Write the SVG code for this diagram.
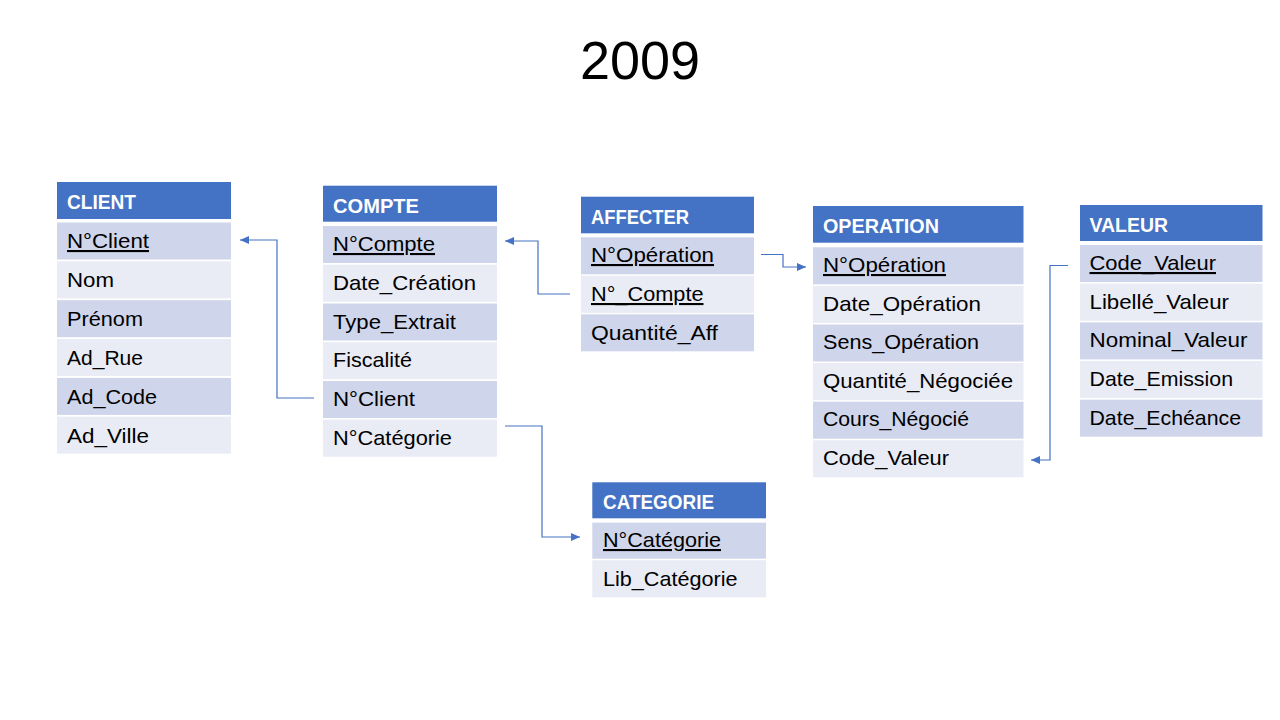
<svg xmlns="http://www.w3.org/2000/svg" width="1280" height="720" viewBox="0 0 1280 720">
<defs>
<style>
.h{fill:#4472C4}
.r1{fill:#CFD5EA}
.r2{fill:#E9EBF5}
.ht{font-family:"Liberation Sans",Arial,sans-serif;font-size:20px;font-weight:bold;fill:#FFFFFF}
.t{font-family:"Liberation Sans",Arial,sans-serif;font-size:21px;fill:#000000}
.pk{text-decoration:underline}
.c{fill:none;stroke:#4472C4;stroke-width:1.2}
.title{font-family:"Liberation Sans",Arial,sans-serif;font-size:54px;fill:#000000}
</style>
<marker id="ar" markerUnits="userSpaceOnUse" markerWidth="9" markerHeight="8" refX="9" refY="4" orient="auto">
<path d="M0,0 L9,4 L0,8 z" fill="#4472C4"/>
</marker>
</defs>
<rect width="1280" height="720" fill="#FFFFFF"/>
<text class="title" x="640" y="79" text-anchor="middle">2009</text>

<g id="client">
<rect class="h" x="57" y="182" width="174" height="37"/>
<text class="ht" x="67" y="209" textLength="69" lengthAdjust="spacingAndGlyphs">CLIENT</text>
<rect class="r1" x="57" y="222.5" width="174" height="37"/>
<rect class="r2" x="57" y="261.3" width="174" height="37"/>
<rect class="r1" x="57" y="300.2" width="174" height="37"/>
<rect class="r2" x="57" y="339" width="174" height="37"/>
<rect class="r1" x="57" y="377.9" width="174" height="37"/>
<rect class="r2" x="57" y="416.7" width="174" height="37"/>
<text class="t pk" x="67" y="248" textLength="82" lengthAdjust="spacingAndGlyphs">N°Client</text>
<text class="t" x="67" y="287" textLength="47" lengthAdjust="spacingAndGlyphs">Nom</text>
<text class="t" x="67" y="326" textLength="76" lengthAdjust="spacingAndGlyphs">Prénom</text>
<text class="t" x="67" y="364.5" textLength="76" lengthAdjust="spacingAndGlyphs">Ad_Rue</text>
<text class="t" x="67" y="403.5" textLength="90" lengthAdjust="spacingAndGlyphs">Ad_Code</text>
<text class="t" x="67" y="442.5" textLength="82" lengthAdjust="spacingAndGlyphs">Ad_Ville</text>
</g>

<g id="compte">
<rect class="h" x="323" y="185.7" width="174" height="36"/>
<text class="ht" x="333" y="212.5" textLength="86" lengthAdjust="spacingAndGlyphs">COMPTE</text>
<rect class="r1" x="323" y="226" width="174" height="37"/>
<rect class="r2" x="323" y="264.7" width="174" height="37"/>
<rect class="r1" x="323" y="303.5" width="174" height="37"/>
<rect class="r2" x="323" y="342.2" width="174" height="37"/>
<rect class="r1" x="323" y="381" width="174" height="37"/>
<rect class="r2" x="323" y="419.7" width="174" height="37"/>
<text class="t pk" x="333" y="251" textLength="102" lengthAdjust="spacingAndGlyphs">N°Compte</text>
<text class="t" x="333" y="290" textLength="143" lengthAdjust="spacingAndGlyphs">Date_Création</text>
<text class="t" x="333" y="328.5" textLength="123" lengthAdjust="spacingAndGlyphs">Type_Extrait</text>
<text class="t" x="333" y="367" textLength="79" lengthAdjust="spacingAndGlyphs">Fiscalité</text>
<text class="t" x="333" y="406" textLength="82" lengthAdjust="spacingAndGlyphs">N°Client</text>
<text class="t" x="333" y="444.5" textLength="119" lengthAdjust="spacingAndGlyphs">N°Catégorie</text>
</g>

<g id="affecter">
<rect class="h" x="581" y="196.7" width="173" height="36.6"/>
<text class="ht" x="591" y="223.5" textLength="98" lengthAdjust="spacingAndGlyphs">AFFECTER</text>
<rect class="r1" x="581" y="237.3" width="173" height="37"/>
<rect class="r2" x="581" y="275.8" width="173" height="37"/>
<rect class="r1" x="581" y="314.3" width="173" height="37"/>
<text class="t pk" x="591" y="262" textLength="123" lengthAdjust="spacingAndGlyphs">N°Opération</text>
<text class="t pk" x="591" y="301" textLength="112.5" lengthAdjust="spacingAndGlyphs">N°_Compte</text>
<text class="t" x="591" y="339.5" textLength="127" lengthAdjust="spacingAndGlyphs">Quantité_Aff</text>
</g>

<g id="operation">
<rect class="h" x="813" y="206" width="210.5" height="36.7"/>
<text class="ht" x="823" y="233" textLength="116" lengthAdjust="spacingAndGlyphs">OPERATION</text>
<rect class="r1" x="813" y="247.3" width="210.5" height="37"/>
<rect class="r2" x="813" y="285.9" width="210.5" height="37"/>
<rect class="r1" x="813" y="324.5" width="210.5" height="37"/>
<rect class="r2" x="813" y="363.1" width="210.5" height="37"/>
<rect class="r1" x="813" y="401.7" width="210.5" height="37"/>
<rect class="r2" x="813" y="440.3" width="210.5" height="37"/>
<text class="t pk" x="823" y="272" textLength="123" lengthAdjust="spacingAndGlyphs">N°Opération</text>
<text class="t" x="823" y="310.5" textLength="158" lengthAdjust="spacingAndGlyphs">Date_Opération</text>
<text class="t" x="823" y="349" textLength="156" lengthAdjust="spacingAndGlyphs">Sens_Opération</text>
<text class="t" x="823" y="387.5" textLength="190" lengthAdjust="spacingAndGlyphs">Quantité_Négociée</text>
<text class="t" x="823" y="426" textLength="146" lengthAdjust="spacingAndGlyphs">Cours_Négocié</text>
<text class="t" x="823" y="465" textLength="126" lengthAdjust="spacingAndGlyphs">Code_Valeur</text>
</g>

<g id="valeur">
<rect class="h" x="1080" y="205" width="182.5" height="36"/>
<text class="ht" x="1089.5" y="231.5" textLength="78.5" lengthAdjust="spacingAndGlyphs">VALEUR</text>
<rect class="r1" x="1080" y="245" width="182.5" height="37"/>
<rect class="r2" x="1080" y="283.7" width="182.5" height="37"/>
<rect class="r1" x="1080" y="322.4" width="182.5" height="37"/>
<rect class="r2" x="1080" y="361" width="182.5" height="37"/>
<rect class="r1" x="1080" y="399.7" width="182.5" height="37"/>
<text class="t pk" x="1089.5" y="270" textLength="126.5" lengthAdjust="spacingAndGlyphs">Code_Valeur</text>
<text class="t" x="1089.5" y="308.5" textLength="139.5" lengthAdjust="spacingAndGlyphs">Libellé_Valeur</text>
<text class="t" x="1089.5" y="347" textLength="158" lengthAdjust="spacingAndGlyphs">Nominal_Valeur</text>
<text class="t" x="1089.5" y="386" textLength="143.5" lengthAdjust="spacingAndGlyphs">Date_Emission</text>
<text class="t" x="1089.5" y="425" textLength="151.5" lengthAdjust="spacingAndGlyphs">Date_Echéance</text>
</g>

<g id="categorie">
<rect class="h" x="592.3" y="482.3" width="173.7" height="36"/>
<text class="ht" x="603" y="509" textLength="111" lengthAdjust="spacingAndGlyphs">CATEGORIE</text>
<rect class="r1" x="592.3" y="522.7" width="173.7" height="36"/>
<rect class="r2" x="592.3" y="560.3" width="173.7" height="37"/>
<text class="t pk" x="603" y="547" textLength="118" lengthAdjust="spacingAndGlyphs">N°Catégorie</text>
<text class="t" x="603" y="586" textLength="134.5" lengthAdjust="spacingAndGlyphs">Lib_Catégorie</text>
</g>

<g id="connectors">
<path class="c" d="M314,398 H277 V240 H240" marker-end="url(#ar)"/>
<path class="c" d="M570,294 H538 V241 H505" marker-end="url(#ar)"/>
<path class="c" d="M761,254.5 H783 V267 H806" marker-end="url(#ar)"/>
<path class="c" d="M505,426 H542 V537 H580" marker-end="url(#ar)"/>
<path class="c" d="M1068,265.5 H1050 V460 H1031" marker-end="url(#ar)"/>
</g>
</svg>
